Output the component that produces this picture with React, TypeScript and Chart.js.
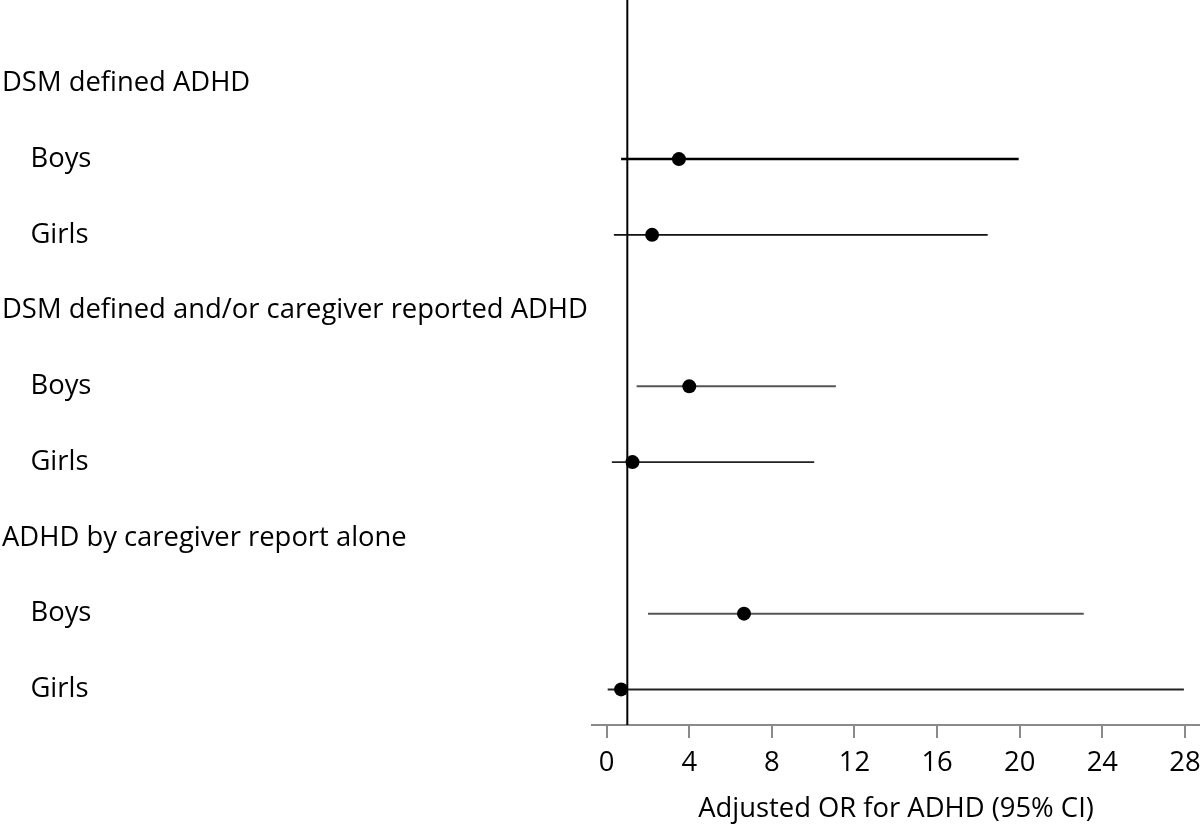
import React, { useEffect, useRef } from 'react';
import { Chart, registerables } from 'chart.js';

Chart.register(...registerables);

const rowLabels = [
  'DSM defined ADHD',
  '    Boys',
  '    Girls',
  'DSM defined and/or caregiver reported ADHD',
  '    Boys',
  '    Girls',
  'ADHD by caregiver report alone',
  '    Boys',
  '    Girls',
];
const estimateRows = [1, 2, 4, 5, 7, 8];
const estimates = [3.5, 2.2, 4.0, 1.25, 6.65, 0.7];
const lowerCI = [0.7, 0.35, 1.45, 0.25, 2.0, 0.05];
const upperCI = [19.95, 18.45, 11.1, 10.05, 23.1, 27.95];
const xTickValues = [0, 4, 8, 12, 16, 20, 24, 28];
const referenceValue = 1;
const xTitle = 'Adjusted OR for ADHD (95% CI)';

const ciColors = ['#000', '#111', '#555', '#222', '#555', '#222'];
const ciWidths = [2.5, 1.6, 2, 1.6, 2, 2];

const Y_MIN = -1.1;
const Y_MAX = 8.47;
const FONT = "'Open Sans', 'Noto Sans', sans-serif";
const FS = 27.4;

export default function App() {
  const ref = useRef<HTMLCanvasElement | null>(null);
  useEffect(() => {
    if (!ref.current) return;
    const datasets: any[] = [];
    datasets.push({
      type: 'scatter',
      data: estimates.map((v, i) => ({ x: v, y: estimateRows[i] })),
      pointRadius: 7,
      pointBackgroundColor: '#000',
      pointBorderColor: '#000',
      pointBorderWidth: 0,
      clip: false,
    });
    estimateRows.forEach((r, i) => {
      datasets.push({
        type: 'line',
        data: [
          { x: lowerCI[i], y: r },
          { x: upperCI[i], y: r },
        ],
        borderColor: ciColors[i],
        borderWidth: ciWidths[i],
        pointRadius: 0,
      });
    });
    datasets.push({
      type: 'line',
      data: [
        { x: referenceValue, y: Y_MIN },
        { x: referenceValue, y: Y_MAX },
      ],
      borderColor: '#000',
      borderWidth: 2,
      pointRadius: 0,
    });

    const chart = new Chart(ref.current, {
      type: 'scatter',
      data: { datasets },
      options: {
        animation: false,
        responsive: false,
        layout: { padding: { left: 2, top: 0, right: 0, bottom: 0 }, autoPadding: false },
        plugins: { legend: { display: false }, tooltip: { enabled: false } },
        scales: {
          x: {
            type: 'linear',
            min: -0.71,
            max: 28.73,
            afterBuildTicks: (s: any) => {
              s.ticks = xTickValues.map((v) => ({ value: v }));
            },
            afterFit: (s: any) => {
              s.height = 101;
              s.paddingLeft = 0;
              s.paddingRight = 0;
            },
            grid: {
              drawOnChartArea: false,
              drawTicks: true,
              tickLength: 13,
              color: '#8a8a8a',
              lineWidth: 2,
            },
            border: { display: true, color: '#8a8a8a', width: 2 },
            ticks: {
              padding: 9,
              color: '#000',
              font: { family: FONT, size: FS },
              callback: (v: any) => String(v),
            },
            title: {
              display: true,
              text: xTitle,
              color: '#000',
              font: { family: FONT, size: FS },
              padding: { top: 0, bottom: 0 },
            },
          },
          y: {
            type: 'linear',
            reverse: true,
            min: Y_MIN,
            max: Y_MAX,
            afterBuildTicks: (s: any) => {
              s.ticks = rowLabels.map((_, i) => ({ value: i }));
            },
            afterFit: (s: any) => {
              s.width = 590;
              s.paddingTop = 0;
              s.paddingBottom = 0;
            },
            grid: { display: false, drawTicks: false },
            border: { display: false },
            ticks: {
              crossAlign: 'far',
              color: '#000',
              font: { family: FONT, size: FS },
              callback: (v: any) => rowLabels[v] ?? '',
            },
          },
        },
      },
    } as any);
    return () => chart.destroy();
  }, []);
  return (
    <div style={{ position: 'absolute', left: 0, top: 0, width: 1200, height: 826, background: '#fff' }}>
      <canvas ref={ref} width={1200} height={826} />
    </div>
  );
}
